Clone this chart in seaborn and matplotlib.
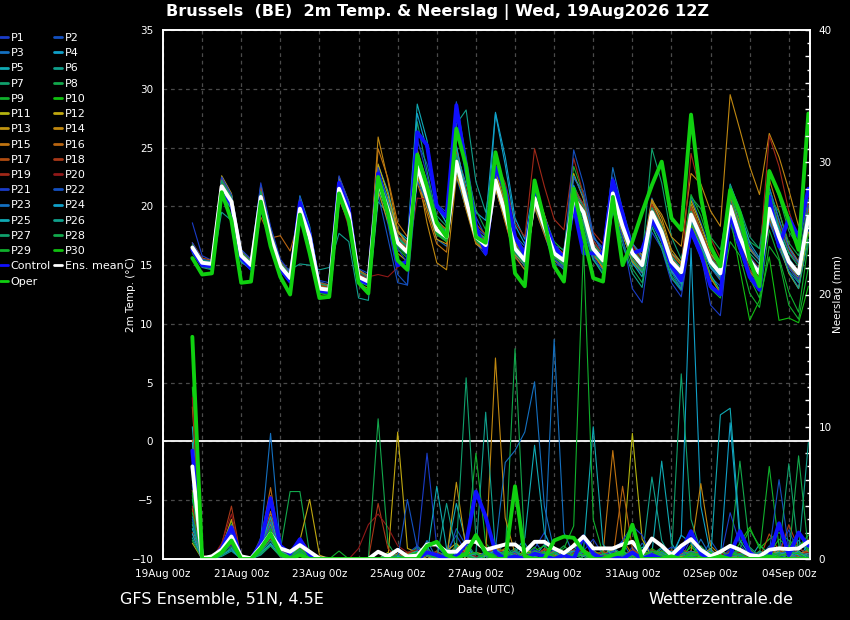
import pandas as pd
import numpy as np
import matplotlib
matplotlib.use("Agg")
import matplotlib.pyplot as plt
import seaborn as sns
from matplotlib.lines import Line2D
from matplotlib.ticker import MultipleLocator


# run 19Aug2026 12Z, 6-hourly steps from +6h to +384h
times = pd.date_range("2026-08-19 18:00", periods=64, freq="6h")

# ensemble mean, control and operational run (2m temperature, degC)
ens_temp = [16.5, 15.2, 15.1, 21.7, 20.4, 15.8, 15.0, 20.8, 17.4, 14.9, 13.9, 19.8, 17.4, 13.0, 12.9, 21.5,
            19.4, 14.0, 13.6, 22.2, 19.7, 16.9, 16.1, 23.4, 20.8, 18.0, 17.4, 23.8, 20.5, 17.4, 16.7, 22.2,
            19.4, 16.4, 15.4, 20.7, 18.3, 16.0, 15.4, 20.7, 19.5, 16.4, 15.4, 21.1, 18.3, 16.0, 15.0, 19.5,
            17.8, 15.3, 14.4, 19.3, 17.4, 15.3, 14.3, 20.0, 17.4, 15.4, 14.3, 19.8, 17.4, 15.3, 14.3, 19.1]
ctl_temp = [16.3, 15.0, 14.9, 21.4, 20.2, 15.6, 14.7, 20.4, 17.2, 14.7, 13.6, 20.3, 17.6, 12.8, 12.7, 22.0,
            19.8, 13.8, 13.4, 22.8, 19.5, 15.0, 15.3, 26.3, 25.2, 20.0, 19.1, 28.6, 23.1, 18.3, 16.0, 23.3,
            21.4, 17.4, 15.9, 21.0, 18.8, 16.6, 15.6, 20.0, 16.0, 16.0, 15.9, 22.2, 19.4, 16.0, 16.3, 18.8,
            17.4, 14.9, 13.7, 18.0, 16.0, 13.2, 12.5, 19.5, 16.6, 14.0, 12.9, 20.8, 16.6, 19.0, 17.4, 21.5]
oper_temp = [15.6, 14.2, 14.3, 21.2, 18.8, 13.5, 13.6, 20.4, 16.6, 14.0, 12.5, 19.3, 16.0, 12.2, 12.3, 21.1,
             18.8, 13.5, 12.6, 22.5, 19.4, 15.4, 14.6, 24.4, 21.7, 18.6, 17.4, 26.6, 23.4, 17.4, 16.9, 24.6,
             21.1, 14.3, 13.2, 22.2, 18.8, 14.9, 13.6, 21.5, 17.5, 13.9, 13.6, 20.8, 15.0, 17.0, 19.5, 21.8,
             23.8, 19.0, 18.0, 27.8, 20.8, 16.6, 14.9, 21.4, 19.4, 15.4, 13.2, 23.0, 21.1, 18.8, 16.3, 27.9]

# precipitation per 6h (mm)
ens_rain = [7.0, 0.05, 0.2, 0.7, 1.7, 0.2, 0.05, 0.9, 1.9, 0.8, 0.55, 1.05, 0.55, 0.05, 0, 0,
            0, 0, 0, 0.55, 0.2, 0.7, 0.2, 0.25, 1.1, 1.1, 0.55, 0.55, 1.3, 1.3, 0.7, 0.9,
            1.1, 1.1, 0.55, 1.3, 1.3, 0.8, 0.45, 1.0, 1.7, 0.8, 0.8, 0.8, 1.1, 1.3, 0.4, 1.55,
            1.0, 0.3, 1.0, 1.5, 0.7, 0.2, 0.55, 1.0, 0.7, 0.3, 0.2, 0.7, 0.8, 0.75, 0.8, 1.3]
ctl_rain = [8.2, 0, 0, 0.8, 2.4, 0, 0, 1.2, 4.6, 1.0, 0.4, 1.5, 0.3, 0, 0, 0,
            0, 0, 0, 0, 0, 0, 0, 0, 0.5, 0.3, 0, 0.2, 1.2, 5.1, 3.2, 0.5,
            0, 0.2, 0, 0.4, 0.2, 0, 0.3, 0, 1.7, 0.4, 0, 0.2, 0, 0.5, 0, 0.3,
            0, 0, 0.6, 2.1, 0.4, 0, 0, 0.3, 2.1, 0.5, 0, 0.2, 2.7, 0.3, 2.0, 1.0]
oper_rain = [16.8, 0, 0, 0.5, 1.4, 0, 0, 0.8, 1.9, 0.4, 0, 0.3, 0, 0, 0, 0,
             0, 0, 0, 0, 0, 0, 0, 0, 1.0, 1.3, 0.3, 0, 0.4, 1.8, 0.5, 0,
             0, 5.5, 0.2, 0, 0, 1.4, 1.7, 1.6, 0.6, 0, 0, 0.3, 0.5, 2.6, 0, 0,
             0, 0.2, 0, 0, 0, 0, 0.2, 0, 0, 0, 0, 0.2, 0, 0, 0, 0]

# perturbed members P1..P30, temperature
t_p01 = [18.6, 15.8, 15.4, 22.3, 20.9, 16.1, 15.2, 21.4, 17.8, 15.0, 13.7, 20.2, 17.0, 13.2, 13.1, 22.0, 19.8, 14.3, 13.9, 23.0, 20.4, 17.5, 16.8, 24.6, 21.9, 18.6, 17.9, 25.2, 21.0, 16.9, 15.8, 21.5, 18.7, 15.8, 14.6, 19.9, 17.6, 15.2, 14.7, 21.4, 20.2, 17.3, 16.5, 22.5, 19.1, 16.4, 14.8, 18.6, 16.9, 13.9, 12.8, 18.2, 16.0, 11.6, 10.7, 18.5, 16.1, 14.6, 13.9, 20.5, 18.2, 16.1, 15.2, 20.6]
t_p02 = [16.9, 15.4, 15.3, 22.0, 20.7, 15.9, 15.1, 21.2, 17.6, 14.7, 13.6, 19.5, 17.0, 12.8, 12.6, 21.9, 19.8, 14.0, 13.4, 21.6, 18.5, 14.2, 13.3, 25.5, 23.6, 20.2, 19.5, 28.9, 24.2, 19.1, 17.4, 23.0, 20.1, 16.9, 15.9, 21.7, 19.1, 16.7, 16.3, 22.4, 21.3, 17.2, 15.6, 20.4, 17.9, 15.1, 14.3, 19.0, 17.3, 14.6, 13.2, 18.4, 16.8, 14.0, 13.2, 19.1, 17.1, 15.0, 13.8, 18.6, 16.7, 14.4, 13.1, 17.9]
t_p03 = [16.6, 15.1, 14.9, 21.3, 20.1, 15.5, 14.6, 20.3, 17.0, 14.8, 14.1, 20.6, 18.0, 13.6, 13.3, 21.0, 19.0, 13.8, 13.2, 22.6, 20.6, 17.8, 17.0, 23.1, 20.1, 17.2, 16.6, 22.5, 19.8, 17.0, 16.5, 23.0, 20.3, 17.5, 16.6, 21.2, 18.4, 15.5, 14.6, 19.5, 18.0, 15.4, 14.6, 21.9, 19.3, 16.8, 15.9, 20.7, 18.5, 16.0, 15.3, 20.8, 18.6, 16.3, 15.0, 21.1, 18.0, 15.7, 14.5, 18.8, 16.4, 14.5, 13.5, 18.2]
t_p04 = [16.2, 15.0, 14.8, 22.4, 21.0, 16.3, 15.5, 21.8, 18.1, 15.3, 14.4, 20.9, 18.3, 13.5, 13.2, 22.4, 20.2, 14.6, 14.1, 23.1, 20.6, 17.4, 16.5, 24.0, 21.5, 18.3, 17.8, 24.6, 21.9, 19.5, 18.8, 28.0, 24.2, 19.0, 17.2, 22.1, 19.2, 16.6, 15.8, 21.8, 19.9, 16.0, 14.8, 20.4, 17.6, 15.4, 14.6, 19.8, 18.3, 15.8, 14.6, 20.1, 17.9, 15.9, 14.9, 21.3, 18.4, 15.7, 14.1, 20.4, 17.6, 15.1, 13.8, 18.4]
t_p05 = [16.4, 15.2, 15.2, 21.6, 20.2, 15.7, 15.1, 21.0, 17.8, 15.2, 14.3, 20.3, 17.5, 12.9, 12.7, 21.2, 19.2, 14.2, 13.8, 23.5, 21.3, 17.9, 17.2, 28.7, 25.6, 20.3, 18.5, 24.6, 21.0, 17.8, 17.0, 23.0, 20.0, 16.0, 14.9, 20.0, 18.0, 15.8, 15.0, 20.2, 19.0, 16.0, 14.9, 20.7, 17.7, 15.2, 14.0, 18.6, 17.0, 14.6, 13.5, 18.9, 16.6, 14.2, 12.8, 21.0, 18.4, 16.3, 15.4, 21.6, 18.8, 16.4, 15.2, 19.9]
t_p06 = [16.0, 14.8, 14.6, 19.5, 18.8, 15.2, 14.8, 19.6, 17.3, 15.0, 14.6, 15.1, 15.0, 14.6, 14.8, 17.7, 17.0, 12.2, 12.0, 20.4, 19.4, 17.1, 16.6, 22.3, 20.4, 17.7, 17.1, 23.1, 20.4, 17.9, 17.3, 22.9, 19.7, 16.6, 15.5, 20.0, 17.8, 15.5, 14.9, 19.8, 18.8, 16.2, 15.3, 21.6, 18.8, 16.1, 14.7, 18.6, 17.1, 14.8, 13.9, 18.4, 16.9, 14.8, 13.9, 20.5, 18.0, 16.0, 15.1, 20.7, 18.3, 16.1, 15.1, 18.4]
t_p07 = [16.7, 15.4, 15.2, 22.1, 20.6, 16.0, 15.2, 21.1, 17.6, 15.1, 14.0, 20.1, 17.6, 13.2, 13.0, 21.8, 19.7, 14.2, 13.8, 22.5, 20.1, 17.3, 16.5, 27.2, 23.0, 19.2, 18.3, 24.2, 20.2, 16.9, 16.2, 21.6, 18.8, 15.9, 15.0, 20.4, 18.0, 15.7, 15.0, 21.0, 19.7, 16.6, 15.6, 21.9, 19.0, 16.3, 15.6, 24.9, 22.0, 17.4, 15.5, 19.8, 17.6, 15.0, 13.8, 19.6, 17.0, 14.6, 13.2, 19.0, 16.8, 14.8, 13.6, 18.6]
t_p08 = [16.3, 15.1, 15.0, 21.5, 20.3, 15.9, 15.2, 20.9, 17.5, 14.8, 13.7, 19.6, 17.2, 12.7, 12.6, 21.0, 19.0, 13.7, 13.3, 21.8, 19.4, 16.8, 16.2, 22.9, 20.6, 17.9, 17.4, 26.8, 23.4, 19.7, 18.0, 22.6, 20.5, 17.3, 16.3, 21.3, 19.0, 16.4, 15.5, 20.4, 18.4, 15.5, 14.3, 19.6, 17.1, 14.7, 13.5, 18.2, 16.6, 14.1, 13.0, 18.0, 16.8, 15.0, 14.3, 21.4, 19.0, 17.0, 16.4, 23.1, 20.8, 17.9, 16.5, 20.6]
t_p09 = [16.8, 15.5, 15.3, 21.9, 20.5, 15.7, 14.8, 20.6, 17.2, 14.6, 13.5, 19.4, 17.0, 12.6, 12.4, 21.3, 19.3, 13.9, 13.4, 22.0, 19.6, 16.7, 15.9, 23.0, 20.3, 17.6, 17.0, 23.4, 20.6, 17.6, 16.9, 22.4, 19.8, 17.0, 16.0, 21.5, 19.2, 17.0, 16.2, 23.4, 21.0, 16.6, 15.0, 21.5, 18.6, 16.0, 14.8, 20.0, 18.2, 15.9, 15.1, 21.0, 19.2, 16.6, 15.3, 20.2, 17.0, 13.9, 12.2, 18.0, 15.6, 12.7, 11.0, 16.9]
t_p10 = [16.1, 14.9, 14.8, 21.0, 19.9, 15.4, 14.7, 20.4, 17.1, 14.6, 13.6, 19.4, 17.0, 12.6, 12.5, 21.1, 19.0, 13.6, 13.2, 21.7, 19.2, 16.4, 15.6, 22.8, 20.4, 17.7, 17.1, 23.2, 20.0, 17.0, 16.3, 21.8, 19.0, 16.1, 15.1, 20.5, 18.2, 15.8, 15.2, 20.3, 19.1, 16.2, 15.1, 20.8, 18.1, 15.8, 14.8, 19.0, 17.3, 14.9, 14.1, 18.6, 16.7, 14.0, 12.7, 19.2, 14.6, 10.3, 12.0, 15.7, 10.3, 10.5, 10.1, 13.2]
t_p11 = [16.4, 15.0, 14.9, 21.8, 20.6, 15.9, 15.0, 21.0, 17.7, 15.0, 14.0, 20.2, 17.8, 13.4, 13.2, 21.9, 19.8, 14.2, 13.7, 22.6, 20.0, 17.1, 16.3, 23.7, 21.1, 18.2, 17.6, 24.1, 20.8, 17.6, 16.8, 22.0, 19.2, 16.3, 15.3, 20.9, 18.5, 16.1, 15.5, 20.9, 19.6, 16.5, 15.5, 21.4, 18.6, 16.2, 15.1, 19.9, 18.0, 15.4, 14.5, 19.6, 17.6, 15.4, 14.4, 20.3, 17.7, 15.6, 14.5, 20.0, 17.6, 15.5, 14.5, 19.4]
t_p12 = [16.7, 15.3, 15.2, 22.6, 21.1, 16.2, 15.3, 21.6, 18.0, 15.1, 14.0, 20.5, 17.9, 13.3, 13.0, 22.5, 20.4, 14.6, 14.0, 23.6, 21.0, 17.8, 16.9, 24.8, 22.0, 18.8, 18.0, 25.0, 21.2, 17.9, 17.0, 23.1, 20.0, 16.9, 15.7, 21.8, 19.3, 16.7, 15.9, 22.8, 20.6, 16.2, 14.6, 19.9, 17.6, 15.3, 14.4, 20.4, 18.6, 16.0, 15.0, 20.5, 18.4, 16.0, 14.9, 20.9, 18.0, 15.6, 14.2, 19.2, 16.8, 14.3, 13.0, 17.8]
t_p13 = [16.5, 15.1, 14.9, 21.2, 19.9, 15.4, 14.7, 20.2, 17.1, 14.6, 13.5, 19.1, 16.9, 12.4, 12.3, 20.6, 18.6, 13.4, 13.0, 21.3, 18.7, 16.0, 15.3, 22.4, 19.8, 17.2, 16.8, 23.0, 19.7, 16.8, 16.2, 21.5, 18.8, 15.9, 15.0, 20.2, 18.0, 15.7, 15.1, 20.5, 19.4, 16.5, 15.6, 21.6, 19.0, 16.8, 15.8, 20.6, 19.0, 16.3, 15.2, 20.2, 18.0, 15.5, 14.0, 19.3, 16.5, 14.4, 13.6, 19.0, 17.0, 14.9, 13.9, 18.6]
t_p14 = [16.6, 15.3, 15.1, 21.9, 20.5, 15.8, 15.0, 21.2, 17.7, 15.0, 13.9, 20.0, 17.4, 13.0, 12.8, 21.7, 19.6, 14.0, 13.5, 25.9, 22.2, 18.0, 16.6, 23.0, 18.6, 15.2, 14.6, 22.5, 20.4, 17.5, 16.9, 22.8, 19.9, 16.8, 15.6, 21.0, 18.6, 16.3, 15.7, 21.2, 19.8, 16.6, 15.6, 21.5, 18.8, 16.4, 15.3, 20.5, 19.3, 17.4, 16.6, 22.8, 21.9, 19.6, 18.3, 29.5, 26.5, 23.4, 21.0, 26.2, 24.2, 21.4, 18.3, 20.9]
t_p15 = [16.2, 14.9, 14.7, 21.4, 20.0, 15.6, 14.9, 20.6, 17.3, 14.8, 13.8, 19.9, 17.6, 13.3, 13.1, 22.0, 20.0, 14.5, 14.0, 24.9, 22.4, 18.6, 17.4, 22.0, 19.4, 16.8, 16.1, 24.4, 21.4, 18.0, 17.1, 21.6, 18.6, 15.7, 14.6, 19.9, 17.6, 15.4, 14.8, 20.0, 18.7, 15.8, 14.8, 20.6, 17.8, 15.4, 14.4, 19.0, 17.2, 14.6, 13.5, 18.5, 16.3, 13.9, 12.6, 20.6, 18.6, 16.4, 15.4, 22.3, 19.6, 16.6, 15.3, 19.8]
t_p16 = [16.3, 15.0, 14.8, 21.3, 20.0, 15.6, 14.9, 19.1, 17.3, 17.5, 16.2, 19.2, 17.2, 13.1, 12.9, 21.1, 19.1, 13.8, 13.4, 21.8, 19.9, 17.1, 16.4, 23.5, 20.9, 17.8, 17.0, 23.3, 19.9, 16.9, 16.3, 21.8, 19.2, 16.2, 15.3, 20.6, 18.5, 16.2, 15.6, 21.3, 19.9, 16.8, 15.8, 21.4, 18.5, 16.1, 15.1, 19.6, 18.1, 15.6, 14.6, 19.8, 17.8, 15.6, 14.7, 20.6, 17.9, 15.6, 14.4, 20.3, 17.7, 15.5, 14.4, 19.6]
t_p17 = [16.9, 15.6, 15.4, 22.4, 20.9, 16.2, 15.4, 21.6, 18.0, 15.3, 14.3, 20.5, 17.9, 13.5, 13.3, 22.2, 20.1, 14.5, 14.1, 22.9, 20.3, 17.5, 16.7, 24.3, 21.5, 18.6, 18.0, 24.8, 21.5, 18.5, 17.6, 23.4, 20.6, 17.4, 16.2, 21.6, 19.2, 16.6, 15.8, 21.1, 19.6, 16.4, 15.2, 20.6, 17.8, 15.6, 14.6, 19.0, 17.4, 14.9, 14.0, 18.9, 16.9, 14.8, 13.8, 19.5, 17.0, 15.0, 13.9, 19.6, 17.3, 15.2, 14.2, 20.3]
t_p18 = [16.6, 15.3, 15.2, 21.9, 20.6, 16.0, 15.2, 21.0, 17.6, 15.1, 14.1, 20.0, 17.7, 13.3, 13.1, 21.7, 19.7, 14.2, 13.8, 22.4, 19.9, 17.1, 16.3, 23.6, 21.0, 18.2, 17.6, 24.0, 20.7, 17.7, 17.0, 22.7, 19.9, 16.8, 15.8, 21.3, 19.0, 16.6, 16.0, 21.6, 20.2, 17.1, 16.0, 21.9, 19.1, 16.7, 15.6, 20.2, 18.4, 15.9, 15.0, 20.0, 18.0, 15.8, 14.6, 19.4, 16.8, 14.6, 13.5, 19.0, 16.8, 14.8, 13.8, 18.7]
t_p19 = [16.4, 15.1, 14.9, 21.5, 20.3, 15.7, 15.0, 20.7, 17.4, 14.9, 13.9, 19.8, 17.4, 13.0, 12.9, 21.4, 19.3, 13.9, 13.5, 22.0, 19.7, 16.9, 16.1, 23.3, 20.7, 18.0, 17.4, 23.6, 20.6, 17.7, 17.2, 23.8, 22.0, 18.6, 17.4, 24.9, 21.7, 18.9, 18.0, 24.1, 21.0, 17.8, 16.8, 21.7, 18.8, 16.2, 15.2, 20.0, 18.0, 15.6, 14.5, 24.5, 21.0, 17.3, 15.6, 21.2, 18.9, 16.6, 15.4, 26.0, 23.4, 19.6, 17.2, 21.0]
t_p20 = [16.2, 14.9, 14.8, 21.1, 20.0, 15.5, 14.7, 20.3, 17.1, 14.6, 13.7, 19.5, 17.1, 12.8, 12.7, 21.0, 18.2, 14.3, 14.0, 14.2, 14.0, 14.8, 15.6, 20.7, 20.6, 18.0, 17.6, 23.9, 20.9, 18.1, 17.5, 24.3, 21.2, 17.6, 16.1, 21.2, 18.9, 16.4, 15.7, 21.0, 19.9, 16.9, 15.9, 21.7, 18.9, 16.5, 15.4, 19.7, 17.7, 15.2, 14.3, 19.6, 17.7, 15.6, 14.6, 20.4, 17.8, 15.8, 14.7, 21.0, 18.6, 16.3, 15.1, 20.2]
t_p21 = [16.9, 15.5, 15.3, 22.5, 21.0, 16.3, 15.5, 22.0, 18.3, 15.5, 14.4, 20.8, 18.2, 13.7, 13.5, 22.6, 20.4, 14.7, 14.3, 23.3, 20.2, 16.4, 15.2, 25.8, 22.6, 18.9, 17.6, 24.3, 21.2, 18.2, 17.5, 22.4, 19.3, 16.1, 15.0, 20.3, 18.0, 15.5, 14.8, 20.4, 19.0, 15.7, 14.5, 19.8, 17.4, 13.0, 11.8, 17.8, 16.4, 13.5, 12.3, 17.6, 15.6, 13.4, 12.5, 18.9, 16.7, 14.3, 13.2, 19.5, 17.0, 14.8, 13.8, 19.0]
t_p22 = [16.5, 15.2, 15.0, 21.6, 20.3, 15.6, 14.7, 20.5, 17.2, 14.7, 13.7, 19.7, 17.3, 12.9, 12.8, 21.4, 19.4, 13.6, 13.3, 21.0, 17.3, 13.5, 13.3, 22.2, 20.3, 17.7, 17.1, 23.3, 20.3, 17.2, 16.5, 22.0, 19.1, 16.2, 15.2, 20.7, 18.5, 16.2, 15.6, 24.8, 21.9, 17.6, 15.9, 21.0, 18.4, 15.9, 14.7, 19.4, 17.6, 15.1, 14.3, 19.5, 17.5, 15.2, 14.0, 20.4, 17.8, 15.7, 14.6, 20.2, 17.6, 15.4, 14.3, 18.9]
t_p23 = [16.6, 15.2, 15.1, 21.8, 20.5, 15.8, 15.0, 20.9, 17.5, 15.0, 14.0, 19.9, 17.5, 13.1, 12.9, 21.6, 19.5, 14.1, 13.6, 22.4, 19.9, 17.0, 16.2, 23.5, 20.9, 18.1, 17.5, 24.0, 20.6, 17.5, 16.8, 22.3, 19.5, 16.5, 15.5, 20.8, 18.4, 16.1, 15.5, 22.6, 20.8, 17.4, 16.3, 23.3, 19.7, 16.9, 15.6, 19.7, 17.5, 14.4, 13.0, 18.8, 17.0, 14.8, 13.7, 21.5, 18.9, 16.6, 15.4, 21.6, 18.9, 16.5, 15.2, 20.1]
t_p24 = [16.3, 15.0, 14.9, 21.1, 19.8, 15.3, 14.6, 20.1, 16.9, 14.5, 13.5, 19.2, 16.8, 12.3, 12.2, 20.8, 18.7, 13.6, 13.3, 21.8, 19.6, 16.9, 16.2, 27.9, 24.8, 19.9, 18.6, 25.1, 21.2, 17.5, 16.8, 27.9, 23.5, 18.4, 16.8, 21.0, 18.7, 15.9, 15.2, 20.6, 19.3, 16.1, 15.0, 20.5, 17.9, 15.5, 14.4, 19.1, 17.0, 14.5, 13.4, 18.2, 16.6, 14.8, 14.0, 21.9, 19.6, 16.9, 15.6, 20.4, 18.0, 15.6, 14.4, 18.8]
t_p25 = [16.4, 15.1, 15.0, 21.7, 20.4, 15.9, 15.1, 21.0, 17.6, 15.1, 14.1, 20.1, 17.6, 13.1, 13.0, 21.7, 19.6, 14.1, 13.6, 22.1, 19.5, 16.7, 15.9, 23.1, 20.6, 17.8, 17.1, 23.4, 20.2, 17.2, 16.5, 21.9, 19.1, 16.2, 15.3, 20.5, 18.2, 15.9, 15.3, 20.4, 19.3, 16.3, 15.3, 21.0, 18.1, 15.8, 14.8, 19.3, 17.6, 15.1, 14.2, 19.0, 17.2, 15.2, 14.1, 19.7, 17.2, 15.3, 14.1, 19.7, 17.2, 15.2, 14.1, 18.9]
t_p26 = [16.1, 14.9, 14.7, 20.9, 19.8, 15.4, 14.7, 20.4, 17.2, 14.8, 13.8, 19.7, 17.2, 12.8, 12.7, 21.2, 19.2, 13.8, 13.4, 21.9, 19.9, 16.8, 16.0, 23.2, 21.0, 18.0, 17.3, 27.0, 28.2, 22.1, 19.5, 24.6, 21.1, 17.3, 16.0, 21.2, 18.8, 16.2, 15.3, 20.2, 18.6, 15.5, 14.2, 19.7, 16.7, 14.3, 13.1, 18.3, 16.4, 13.9, 12.9, 18.6, 17.4, 15.4, 14.5, 20.2, 17.6, 15.4, 14.2, 19.2, 16.9, 14.4, 13.0, 17.2]
t_p27 = [16.7, 15.4, 15.3, 22.2, 20.8, 16.1, 15.3, 21.3, 17.9, 15.2, 14.2, 20.3, 17.9, 13.4, 13.2, 22.0, 19.9, 14.4, 14.0, 22.8, 20.3, 17.4, 16.6, 24.2, 21.4, 18.5, 17.9, 24.4, 21.0, 17.9, 17.2, 22.6, 19.7, 16.7, 15.7, 21.2, 18.8, 16.4, 15.8, 21.1, 20.0, 16.8, 15.8, 21.5, 18.7, 16.3, 15.3, 19.9, 18.3, 15.7, 14.8, 19.6, 17.7, 15.6, 14.6, 21.8, 19.8, 17.4, 16.4, 21.2, 18.3, 16.0, 14.9, 18.5]
t_p28 = [16.3, 15.0, 14.9, 21.4, 20.2, 15.6, 14.9, 20.6, 17.2, 14.8, 13.8, 19.6, 17.2, 12.8, 12.7, 21.3, 19.2, 13.8, 13.4, 21.9, 19.4, 16.6, 15.8, 23.0, 20.5, 17.7, 17.1, 23.3, 20.1, 17.1, 16.4, 21.8, 19.0, 16.0, 15.1, 20.3, 18.0, 15.7, 15.1, 20.2, 19.0, 16.0, 15.0, 20.4, 17.9, 15.5, 14.5, 18.8, 17.4, 14.9, 14.0, 20.8, 19.8, 17.4, 16.3, 21.0, 18.2, 15.6, 14.4, 20.9, 19.5, 16.9, 15.8, 19.4]
t_p29 = [16.5, 15.2, 15.1, 21.6, 20.3, 15.7, 14.9, 20.7, 17.3, 14.8, 13.8, 19.7, 17.3, 12.9, 12.8, 21.4, 19.3, 13.9, 13.5, 22.0, 19.5, 16.7, 16.0, 23.0, 20.4, 17.6, 17.0, 23.3, 20.2, 17.2, 16.5, 22.0, 19.3, 16.3, 15.3, 20.6, 18.2, 15.9, 15.3, 20.6, 19.4, 16.3, 15.3, 21.0, 18.2, 15.9, 14.9, 19.3, 17.6, 15.1, 14.2, 18.4, 16.0, 13.0, 12.2, 17.0, 15.8, 12.6, 11.4, 16.6, 15.4, 11.6, 10.4, 14.8]
t_p30 = [16.2, 14.9, 14.8, 21.2, 20.0, 15.5, 14.8, 20.5, 17.2, 14.8, 13.8, 19.7, 17.3, 12.9, 12.8, 21.3, 19.3, 13.9, 13.5, 22.1, 19.7, 16.8, 16.1, 23.3, 20.6, 17.8, 17.2, 23.7, 20.4, 17.3, 16.6, 22.1, 19.3, 16.3, 15.3, 20.6, 18.3, 16.0, 15.4, 20.8, 19.6, 16.5, 15.5, 21.3, 18.4, 16.0, 15.1, 19.6, 17.9, 15.4, 14.5, 19.4, 17.5, 15.4, 14.4, 20.1, 17.5, 15.4, 14.4, 19.9, 17.4, 15.2, 14.2, 17.6]

# perturbed members P1..P30, precipitation
r_p01 = [6.0, 0, 0.2, 0.6, 1.8, 0, 0, 0.9, 2.2, 0.4, 0, 0.7, 0.2, 0, 0, 0, 0, 0, 0, 0, 0, 0, 0.4, 1.0, 0.3, 0, 0.6, 1.8, 0.5, 0, 0, 1.2, 0.3, 0, 0.2, 0.8, 2.0, 0.4, 0, 0, 0.6, 1.5, 0.3, 0, 0, 0.9, 0.2, 0, 0.4, 0, 0, 1.6, 0.5, 0, 0, 3.5, 1.1, 0.2, 0, 0, 0.7, 2.2, 0.4, 0]
r_p02 = [3.2, 0, 0, 0.4, 1.2, 0, 0, 0.6, 1.9, 0.3, 0, 0.5, 0, 0, 0, 0, 0, 0, 0, 0, 0.3, 0, 0, 0.8, 0.2, 0.5, 0, 2.3, 1.0, 0, 0.4, 0, 0.7, 0.2, 0, 1.4, 0.3, 0, 0, 0.6, 1.8, 0, 0, 0.5, 0.3, 0, 1.2, 0.4, 0, 0.6, 0, 0.2, 0, 1.4, 0.3, 0, 0.5, 0, 0, 1.0, 0.3, 0, 0.9, 0.2]
r_p03 = [8.2, 0, 0, 0.5, 1.5, 0, 0, 1.6, 9.5, 1.0, 0.2, 0.9, 0.3, 0, 0, 0, 0, 0, 0, 0, 0.2, 0.6, 0, 0, 1.4, 0, 0.3, 0.9, 0, 0.4, 0, 0.7, 0.6, 0, 1.2, 0, 0.2, 16.6, 2.0, 0.3, 0, 0.5, 0, 0.8, 1.3, 0, 0.2, 0, 0.6, 0, 0.3, 0, 1.5, 0.2, 0, 0.4, 0, 0.6, 0, 0.3, 0, 0.8, 1.4, 0.5]
r_p04 = [2.3, 0, 0, 0.3, 0.8, 0, 0, 0.4, 1.2, 0.2, 0, 0.3, 0, 0, 0, 0, 0, 0, 0, 0, 0, 0, 0.3, 0.5, 0, 0.2, 0, 1.0, 0.4, 0, 0, 0.6, 0, 0.3, 0, 0.2, 1.1, 0, 0, 0.4, 0.2, 0.7, 0, 0.3, 0, 0.5, 0, 0.2, 0.8, 0, 1.8, 23.5, 4.0, 0.3, 0, 0.6, 0.2, 0, 0.5, 0, 0.9, 0.3, 0, 1.2]
r_p05 = [10.0, 0.3, 0, 1.0, 2.6, 0, 0, 1.2, 3.4, 0.6, 0.3, 1.5, 0.5, 0, 0, 0, 0, 0, 0, 0, 0, 0.4, 0, 0.6, 0.9, 0, 0.3, 4.2, 1.2, 0, 0.6, 0.3, 0, 0.5, 1.6, 8.6, 2.0, 0.4, 0, 0.2, 0.6, 0, 0.3, 0.8, 0.2, 0, 0.9, 0.4, 7.4, 1.2, 0, 0.3, 0, 0.6, 0.2, 0, 0.4, 0, 1.1, 0.3, 0, 0.5, 0, 0.7]
r_p06 = [1.6, 0, 0, 0.2, 0.6, 0, 0, 0.3, 1.0, 0.2, 0, 0.4, 0, 0, 0, 0, 0, 0, 0, 0, 0.2, 0, 0, 0.3, 0, 0.6, 0.2, 0, 0.8, 0, 0, 0.4, 1.2, 0, 0.3, 0, 0, 0.6, 0, 0.3, 0.4, 0, 0, 0.9, 0.3, 0.2, 0, 6.2, 1.4, 0, 0.4, 0, 0.2, 0.7, 0, 0.5, 0, 0.3, 0, 0.8, 0.4, 0, 0.2, 0.6]
r_p07 = [4.5, 0, 0, 0.7, 1.9, 0, 0, 0.8, 2.6, 0.5, 0.2, 1.1, 0.3, 0, 0, 0, 0, 0, 0, 0, 0.4, 0, 0.3, 0.9, 0.5, 0, 0, 0.6, 1.3, 0.2, 0, 0.5, 0.3, 0.8, 0, 0.4, 0.6, 0, 0.3, 1.0, 0, 0.4, 0.2, 0, 0.5, 0, 0.7, 0.3, 0.9, 0.2, 14.0, 3.0, 0.6, 0, 0.4, 0.3, 0, 0.9, 0.2, 0, 0.5, 0.3, 0, 0.9]
r_p08 = [7.0, 0, 0, 0.8, 2.2, 0, 0, 1.0, 3.0, 0.7, 5.1, 5.1, 0.4, 0, 0, 0, 0, 0, 0, 0, 0, 0.3, 0, 0.5, 0.2, 0.6, 0, 1.1, 0.4, 0, 0.2, 0.8, 0.3, 15.9, 0.6, 0.2, 0, 0.4, 1.0, 0.3, 0.5, 0, 0.2, 0.6, 0, 0.3, 0.5, 0, 0.6, 0, 0.3, 0.4, 1.0, 0.2, 0, 0.5, 7.4, 0.8, 0, 0.3, 0.2, 0.6, 0.4, 0]
r_p09 = [2.8, 0, 0, 0.4, 1.3, 0, 0, 0.7, 1.6, 0.3, 0, 0.6, 0.2, 0, 0, 0.6, 0, 0, 0, 0, 0.3, 0, 0.5, 0.7, 0, 0.3, 0, 1.0, 0.6, 8.0, 1.2, 0.3, 0.4, 0, 0.3, 0.9, 0.2, 0.6, 0, 0.4, 0, 0.3, 0.6, 0.2, 0.7, 0, 0.4, 0.3, 0, 0.5, 0.2, 0.9, 0.3, 0, 0.6, 0.2, 0.4, 0, 0.3, 7.0, 0.9, 0.2, 0.5, 0]
r_p10 = [13.0, 0.2, 0, 0.9, 2.9, 0, 0, 1.3, 2.8, 0.6, 0.2, 1.2, 0.3, 0, 0, 0, 0, 0, 0, 0, 0, 0.2, 0, 0.4, 0.3, 0, 0.5, 0.7, 0.2, 0.4, 0, 0.9, 0.5, 0, 0.2, 0.6, 1.0, 0.3, 0, 0.5, 0.8, 0, 0.3, 0, 0.6, 0.2, 0, 0.8, 0.3, 0.4, 0, 1.1, 0, 0.6, 0.2, 0, 1.2, 2.4, 0.8, 1.5, 2.0, 1.4, 0.9, 1.8]
r_p11 = [5.2, 0, 0, 0.6, 1.6, 0, 0, 0.5, 2.0, 0.4, 0, 0.8, 0.2, 0, 0, 0, 0, 0, 0, 0, 0.5, 0, 0, 0.3, 0.6, 0.2, 0, 0.9, 0, 0.5, 0.3, 0.6, 0.2, 0, 0.7, 0.4, 0.5, 0.2, 0, 0.6, 0.3, 0.6, 0, 0.4, 0, 9.5, 1.5, 0.2, 0.6, 0, 0.4, 0.3, 0.2, 0.8, 0, 0.5, 0.3, 0, 0.6, 0.2, 0.6, 0.3, 0, 0.5]
r_p12 = [1.2, 0, 0, 0.5, 2.1, 0, 0, 0.7, 2.4, 0.5, 0.2, 1.4, 4.5, 0.3, 0, 0, 0, 0, 0, 0, 0, 9.6, 0.8, 0.5, 0.3, 0, 0.6, 1.2, 0.4, 0, 0.3, 0.7, 0.6, 0.2, 0, 0.5, 0.3, 0.9, 0, 0.2, 0.6, 0, 0.4, 0.7, 0.2, 0, 0.5, 0.3, 0.5, 0.2, 0, 0.6, 0.3, 0, 0.7, 0.2, 0.5, 0.3, 0, 0.4, 0.2, 0.6, 0, 0.3]
r_p13 = [3.8, 0, 0, 0.8, 3.0, 0, 0, 0.6, 1.8, 0.3, 0.4, 0.9, 0.2, 0, 0, 0, 0, 0, 0, 0, 0.2, 0, 0, 0.6, 0.4, 0.3, 0, 5.8, 0.7, 0, 0.2, 0.5, 0, 0.4, 0.3, 0.6, 0.4, 0, 0.5, 0.2, 0.7, 0.3, 0, 0.5, 0.2, 0.4, 0, 0.6, 0.3, 0, 0.2, 0.5, 0.4, 0.6, 0, 0.2, 0.3, 0, 0.4, 0.2, 0.5, 0.2, 0.3, 0]
r_p14 = [6.5, 0, 0, 0.5, 1.7, 0, 0, 0.9, 2.7, 0.4, 0, 0.7, 0.3, 0, 0, 0, 0, 0, 0, 0, 0.3, 0, 0.2, 0.5, 0, 0.4, 0, 0.8, 0.5, 0, 0.3, 15.2, 3.1, 0.4, 0, 0.6, 0.2, 0.5, 0, 0.4, 0.6, 0.3, 0, 0.2, 0, 0.4, 0.6, 0.3, 0.2, 0, 0.4, 0.6, 5.7, 1.0, 0.3, 0, 0.2, 0, 0.3, 0.5, 0.4, 0, 0.6, 0.2]
r_p15 = [9.0, 0.2, 0, 0.7, 2.3, 0, 0, 1.1, 3.6, 0.8, 0.3, 1.0, 0.4, 0, 0, 0, 0, 0, 0, 0, 0, 0.4, 0, 0.3, 0.6, 0, 0.2, 0.9, 0.3, 0.5, 0, 0.4, 0.8, 0, 0.3, 0.5, 0.2, 0.6, 0, 1.2, 0.5, 0, 0.4, 8.2, 1.5, 0.3, 0, 0.4, 0.6, 0.2, 0, 0.5, 0.3, 0, 0.6, 0.2, 0.4, 0.7, 0, 0.3, 0.8, 0.2, 0.4, 0.6]
r_p16 = [11.5, 0.3, 0, 0.9, 2.5, 0, 0, 1.4, 5.4, 0.9, 0.2, 1.3, 0.5, 0, 0, 0, 0, 0, 0, 0, 0.3, 0, 0.4, 0.6, 0.2, 0.5, 0, 0.7, 0.6, 0, 0.4, 0.9, 0.3, 0.2, 0.5, 0, 0.8, 0.3, 0, 0.5, 0.2, 0.6, 0.3, 0, 5.5, 0.8, 0, 0.4, 0.3, 0.5, 0, 0.6, 0.2, 0, 0.5, 0.3, 0.6, 0.2, 0, 0.4, 0.3, 0.5, 0.2, 0.7]
r_p17 = [2.0, 0, 0, 0.6, 1.4, 0, 0, 0.8, 4.8, 0.6, 0.2, 0.9, 0.3, 0, 0, 0, 0, 0, 0, 0, 0, 0.2, 0.5, 0.4, 0.7, 0, 0.3, 0.6, 0.2, 0.5, 0, 1.0, 0.4, 0, 0.6, 0.3, 0.5, 0, 0.2, 0.7, 0.3, 0.4, 0, 0.6, 0.2, 0.7, 0.3, 0, 0.5, 0, 0.8, 0.3, 0.6, 0.2, 0, 0.4, 0.3, 0.5, 0, 1.9, 0.6, 0.2, 0.7, 1.5]
r_p18 = [7.5, 0.2, 0, 1.1, 4.0, 0, 0, 0.7, 2.9, 0.5, 0.3, 1.0, 0.3, 0, 0, 0, 0, 0, 0, 4.2, 0.8, 0, 0.3, 0.5, 0.2, 0.6, 0, 0.9, 0.4, 0, 0.2, 0.6, 0.3, 0.5, 0, 0.4, 0.7, 0.2, 0, 0.5, 0.3, 0, 0.6, 0.2, 0.5, 0.3, 0, 0.7, 0.2, 0.6, 0.4, 0, 0.5, 0, 0.3, 0.6, 0.2, 0.4, 0, 0.5, 0.3, 2.6, 0.8, 0.4]
r_p19 = [4.0, 0, 0, 0.4, 1.1, 0, 0, 0.5, 1.5, 0.2, 0, 0.4, 0, 0, 0, 0, 0, 0, 0, 0, 0.2, 0, 0, 0.4, 0.5, 0.2, 0, 0.7, 0.3, 0, 0.4, 0.2, 0, 0.6, 0, 0.3, 0.4, 0, 0.2, 0.5, 0.6, 0.3, 0, 0.2, 0.4, 0, 0.5, 0.3, 0.2, 0.7, 0, 0.4, 0.3, 0.2, 0, 0.6, 0.5, 0, 0.3, 0.2, 0.4, 0.6, 0, 0.3]
r_p20 = [12.2, 0.3, 0, 1.2, 3.4, 0, 0, 1.5, 3.3, 0.7, 0.4, 1.6, 0.6, 0, 0, 0, 0, 0.8, 2.6, 3.4, 2.4, 1.0, 0.5, 0.7, 0.3, 0.5, 0, 0.8, 0.4, 0.2, 0, 0.6, 0.5, 0, 0.3, 0.4, 0.2, 0.5, 0, 0.6, 0.4, 0, 0.3, 0.5, 0.2, 0.4, 0, 0.3, 0.6, 0.2, 0, 0.5, 0.3, 0, 0.4, 0.2, 0.5, 0.3, 0, 0.6, 0.2, 0.4, 0.3, 0.5]
r_p21 = [5.6, 0, 0, 0.7, 1.9, 0, 0, 1.0, 2.4, 0.4, 0, 0.8, 0.2, 0, 0, 0, 0, 0, 0, 0, 0, 0.3, 0, 0.6, 8.0, 0.9, 0.2, 0.5, 0.3, 0, 0.6, 0.4, 0.2, 0.5, 0, 0.7, 0.4, 0, 0.3, 0.2, 0.6, 0.2, 0, 0.5, 1.4, 2.5, 1.8, 0.3, 0.4, 0.9, 0.6, 0, 0.5, 0.3, 0, 0.8, 0.2, 0.6, 0, 0.4, 0.3, 0, 0.5, 0.2]
r_p22 = [3.0, 0, 0, 0.5, 1.0, 0, 0, 0.6, 1.7, 0.3, 0, 0.5, 0, 0, 0, 0, 0, 0, 0, 0, 0.2, 0, 4.5, 0.8, 0.3, 0, 0.4, 0.6, 0.2, 0.5, 0, 0.3, 0.6, 0, 0.2, 0.4, 0.3, 0.7, 0, 0.2, 0.5, 0, 0.3, 0.6, 0.2, 0.4, 0, 0.3, 0.6, 0.2, 0, 0.5, 0.3, 0, 0.6, 0.2, 0.4, 0.3, 0, 0.5, 6.0, 0.8, 0.3, 0]
r_p23 = [6.8, 0, 0, 0.6, 2.0, 0, 0, 0.9, 2.8, 0.5, 0.2, 0.7, 0.2, 0, 0, 0, 0, 0, 0, 0, 0.3, 0, 0.2, 0.5, 0.4, 0, 0.6, 0.3, 0.2, 0.5, 0, 0.8, 7.3, 8.2, 9.6, 13.4, 4.0, 0.6, 0, 0.3, 0.5, 0.2, 0, 0.6, 0.3, 0.4, 0.2, 0, 0.5, 0, 0.3, 0.6, 0.2, 0.7, 0, 0.4, 0.3, 0, 0.5, 0.2, 0.4, 0.6, 0, 0.3]
r_p24 = [1.9, 0, 0, 0.3, 0.7, 0, 0, 0.4, 1.1, 0.2, 0, 0.3, 0, 0, 0, 0, 0, 0, 0, 0, 0, 0.2, 0, 0.3, 0.5, 0, 0.2, 0.6, 0.3, 0, 0.4, 0.2, 0.6, 0.2, 0, 0.5, 0.3, 0, 0.4, 0.6, 0.2, 0.5, 0, 0.3, 0.6, 0, 0.3, 0.2, 0.4, 0.2, 1.8, 1.2, 0.3, 0.5, 0, 10.3, 1.4, 0.3, 0, 0.5, 0.2, 0.6, 0.3, 0.4]
r_p25 = [8.8, 0.2, 0, 0.8, 2.4, 0, 0, 1.1, 3.2, 0.6, 0.2, 1.0, 0.3, 0, 0, 0, 0, 0, 0, 0, 0.4, 0, 0.3, 0.6, 0.2, 5.5, 0.8, 0.3, 0.5, 0, 0.2, 0.7, 0.3, 0.6, 0, 0.4, 0.2, 0.5, 0, 0.3, 0.6, 10.0, 1.1, 0.2, 0.4, 0, 0.5, 0.3, 0.2, 0.6, 0, 0.4, 0.3, 0, 10.9, 11.4, 2.0, 0.4, 0, 0.3, 0.5, 0.2, 0.6, 0]
r_p26 = [2.6, 0, 0, 0.4, 1.3, 0, 0, 0.5, 1.4, 0.3, 0, 0.6, 0, 0, 0, 0, 0, 0, 0, 0, 0.2, 0, 0, 0.5, 0.3, 0, 4.2, 0.5, 0.2, 0.4, 11.1, 0.6, 0.3, 0, 0.5, 0.2, 0.4, 0.2, 0, 0.6, 0.3, 0, 0.4, 0.2, 0.5, 0.3, 0, 0.4, 0.2, 0, 0.6, 0.3, 0.4, 0.2, 0, 0.5, 0.3, 0.6, 0, 0.2, 0.4, 0, 0.5, 8.8]
r_p27 = [4.8, 0, 0, 0.5, 1.5, 0, 0, 0.8, 2.1, 0.4, 0, 0.7, 0.2, 0, 0, 0, 0, 0, 0, 0, 0, 0.3, 0, 0.4, 0.6, 0, 0.3, 0.8, 13.7, 1.6, 0.2, 0.5, 0.3, 0.6, 0, 0.4, 0.2, 0.5, 0, 0.3, 0.6, 0, 0.4, 0.2, 0.3, 0.5, 0, 0.6, 0.4, 0, 0.3, 0.2, 0.5, 0.3, 0, 0.4, 0.2, 0, 0.6, 0.3, 0.4, 7.2, 0.5, 0.2]
r_p28 = [1.4, 0, 0, 0.3, 0.9, 0, 0, 0.4, 1.0, 0.2, 0, 0.5, 0, 0, 0, 0, 0, 0, 0, 10.6, 1.2, 0, 0.2, 0.5, 0.3, 0.4, 0, 0.6, 0.2, 0, 0.5, 0.3, 0.4, 0.2, 0, 0.6, 0.3, 0, 0.5, 0.2, 0.6, 0.3, 0, 0.4, 0.2, 0.5, 0, 0.3, 0.4, 0, 0.6, 0.2, 0.3, 0.5, 0, 0.4, 0.6, 0.2, 0, 0.3, 0.4, 0.2, 7.8, 0.6]
r_p29 = [3.5, 0, 0, 0.5, 1.4, 0, 0, 0.6, 1.8, 0.3, 0, 0.6, 0.2, 0, 0, 0, 0, 0, 0, 0, 0.3, 0, 0.2, 0.4, 0.5, 0.2, 0, 0.6, 0.3, 0, 0.4, 0.2, 0.6, 0.3, 0, 0.5, 0.2, 0.4, 0.8, 2.5, 23.7, 3.0, 0.4, 0.2, 0.5, 0, 0.3, 0.6, 0.2, 0.4, 0, 0.5, 0.3, 0, 0.6, 0.2, 0.8, 2.2, 1.0, 0.4, 1.5, 0.9, 2.0, 0.6]
r_p30 = [5.0, 0, 0, 0.6, 1.7, 0, 0, 0.7, 2.3, 0.4, 0.2, 0.8, 0.2, 0, 0, 0, 0, 0, 0, 0, 0.2, 0, 0.3, 0.5, 0.4, 0, 0.2, 0.6, 0.3, 0.5, 0, 0.4, 0.2, 0, 0.6, 0.3, 0.5, 0.2, 0, 0.4, 0.3, 0.6, 0, 0.2, 0.4, 0, 0.5, 0.3, 0.6, 0.2, 0, 0.4, 0.2, 0.5, 0, 0.3, 0.4, 0, 0.3, 0.6, 0.2, 0.5, 0.4, 0]

member_temps = [t_p01, t_p02, t_p03, t_p04, t_p05, t_p06, t_p07, t_p08, t_p09, t_p10,
                t_p11, t_p12, t_p13, t_p14, t_p15, t_p16, t_p17, t_p18, t_p19, t_p20,
                t_p21, t_p22, t_p23, t_p24, t_p25, t_p26, t_p27, t_p28, t_p29, t_p30]
member_rains = [r_p01, r_p02, r_p03, r_p04, r_p05, r_p06, r_p07, r_p08, r_p09, r_p10,
                r_p11, r_p12, r_p13, r_p14, r_p15, r_p16, r_p17, r_p18, r_p19, r_p20,
                r_p21, r_p22, r_p23, r_p24, r_p25, r_p26, r_p27, r_p28, r_p29, r_p30]
member_names = ["P%d" % (i + 1) for i in range(30)]

# palette repeats after 20 members
base_colors = ["#1a3cc8", "#1450c0", "#1470c0", "#10a0c8", "#10aab4", "#10a08c", "#10a06c", "#12a84c",
               "#10b02c", "#10c010", "#b4b410", "#c0a810", "#c09410", "#c08810", "#c07410", "#b86410",
               "#b04c10", "#a83818", "#a02818", "#901818"]
palette = {name: base_colors[i % 20] for i, name in enumerate(member_names)}
ctl_color = "#1010ff"
oper_color = "#10d010"
ens_color = "white"

frames = []
for name, t, r in zip(member_names, member_temps, member_rains):
    frames.append(pd.DataFrame({"time": times, "member": name, "temp": t, "rain": r}))
members = pd.concat(frames, ignore_index=True)
main = pd.DataFrame({"time": times, "ens_t": ens_temp, "ctl_t": ctl_temp, "oper_t": oper_temp,
                     "ens_r": ens_rain, "ctl_r": ctl_rain, "oper_r": oper_rain})

sns.set_style("dark")
plt.rcParams["font.family"] = ["DejaVu Sans"]
plt.rcParams["text.color"] = "white"

fig = plt.figure(figsize=(8.5, 6.2), dpi=100, facecolor="black")
ax = fig.add_axes([163 / 850, 61 / 620, 647 / 850, 529 / 620])
ax.set_facecolor("black")
ax2 = ax.twinx()
ax2.set_facecolor("none")

thin = 0.8
thick = 2.8
sns.lineplot(data=members, x="time", y="temp", hue="member", palette=palette, linewidth=thin,
             estimator=None, legend=False, ax=ax)
sns.lineplot(data=main, x="time", y="ctl_t", color=ctl_color, linewidth=thick, ax=ax)
sns.lineplot(data=main, x="time", y="ens_t", color=ens_color, linewidth=thick, ax=ax)
sns.lineplot(data=main, x="time", y="oper_t", color=oper_color, linewidth=thick, ax=ax)

sns.lineplot(data=members, x="time", y="rain", hue="member", palette=palette, linewidth=thin,
             estimator=None, legend=False, ax=ax2)
sns.lineplot(data=main, x="time", y="ctl_r", color=ctl_color, linewidth=thick, ax=ax2)
sns.lineplot(data=main, x="time", y="ens_r", color=ens_color, linewidth=thick, ax=ax2)
sns.lineplot(data=main, x="time", y="oper_r", color=oper_color, linewidth=thick, ax=ax2)

ax.axhline(0, color="white", linewidth=1.3, zorder=1.5)

# axes ranges and ticks
ax.set_xlim(pd.Timestamp("2026-08-19 00:00"), pd.Timestamp("2026-09-04 13:00"))
ax.set_ylim(-10, 35)
ax2.set_ylim(0, 40)

days = pd.date_range("2026-08-19", "2026-09-04", freq="D")
ax.set_xticks(days)
ax.set_xticklabels([d.strftime("%d%b 00z") if i % 2 == 0 else "" for i, d in enumerate(days)])
ax.set_yticks(range(-10, 36, 5))
ax.tick_params(axis="both", length=0, colors="white", labelsize=7.5)
ax.tick_params(axis="y", pad=7)
ax.tick_params(axis="x", pad=7)

ax2.set_yticks(np.arange(0, 41, 2))
ax2.set_yticklabels([str(v) if v % 10 == 0 else "" for v in range(0, 41, 2)])
ax2.yaxis.set_minor_locator(MultipleLocator(1))
ax2.tick_params(axis="y", which="major", direction="in", length=3.8, width=1, colors="white",
                labelsize=7.5, pad=6)
ax2.tick_params(axis="y", which="minor", direction="in", length=2.2, width=1, colors="white")

ax.grid(True, color="#4a4a4a", linestyle=(0, (3, 3)), linewidth=0.9)
ax2.grid(False)
for a in (ax, ax2):
    for s in a.spines.values():
        s.set_color("white")
        s.set_linewidth(1.2)

ax.set_xlabel("Date (UTC)", color="white", fontsize=7.5, labelpad=4)
ax.set_ylabel("2m Temp. (°C)", color="white", fontsize=7.5, labelpad=-3)
ax2.set_ylabel("Neerslag (mm)", color="white", fontsize=7.5, labelpad=1)

# legend in two columns, row-major order
handles = {n: Line2D([], [], color=palette[n], linewidth=2) for n in member_names}
handles["Control"] = Line2D([], [], color=ctl_color, linewidth=2)
handles["Ens. mean"] = Line2D([], [], color=ens_color, linewidth=2)
handles["Oper"] = Line2D([], [], color=oper_color, linewidth=2)
col1 = member_names[0::2] + ["Control", "Oper"]
col2 = member_names[1::2] + ["Ens. mean"]
order = col1 + col2
fig.legend([handles[n] for n in order], order, loc="upper left", bbox_to_anchor=(0.0, 1 - 33 / 620),
           ncol=2, frameon=False, fontsize=8, handlelength=0.75, handletextpad=0.2,
           columnspacing=0.3, labelspacing=0.47, borderpad=0, borderaxespad=0, labelcolor="white")

fig.text(166 / 850, 1 - 12 / 620, "Brussels  (BE)  2m Temp. & Neerslag | Wed, 19Aug2026 12Z",
         color="white", fontsize=11.6, fontweight="bold", ha="left", va="center")
fig.text(120 / 850, 1 - 599 / 620, "GFS Ensemble, 51N, 4.5E", color="white", fontsize=11.5,
         ha="left", va="center")
fig.text(793 / 850, 1 - 599 / 620, "Wetterzentrale.de", color="white", fontsize=11.5,
         ha="right", va="center")

fig.savefig("out.png", dpi=100, facecolor="black")
